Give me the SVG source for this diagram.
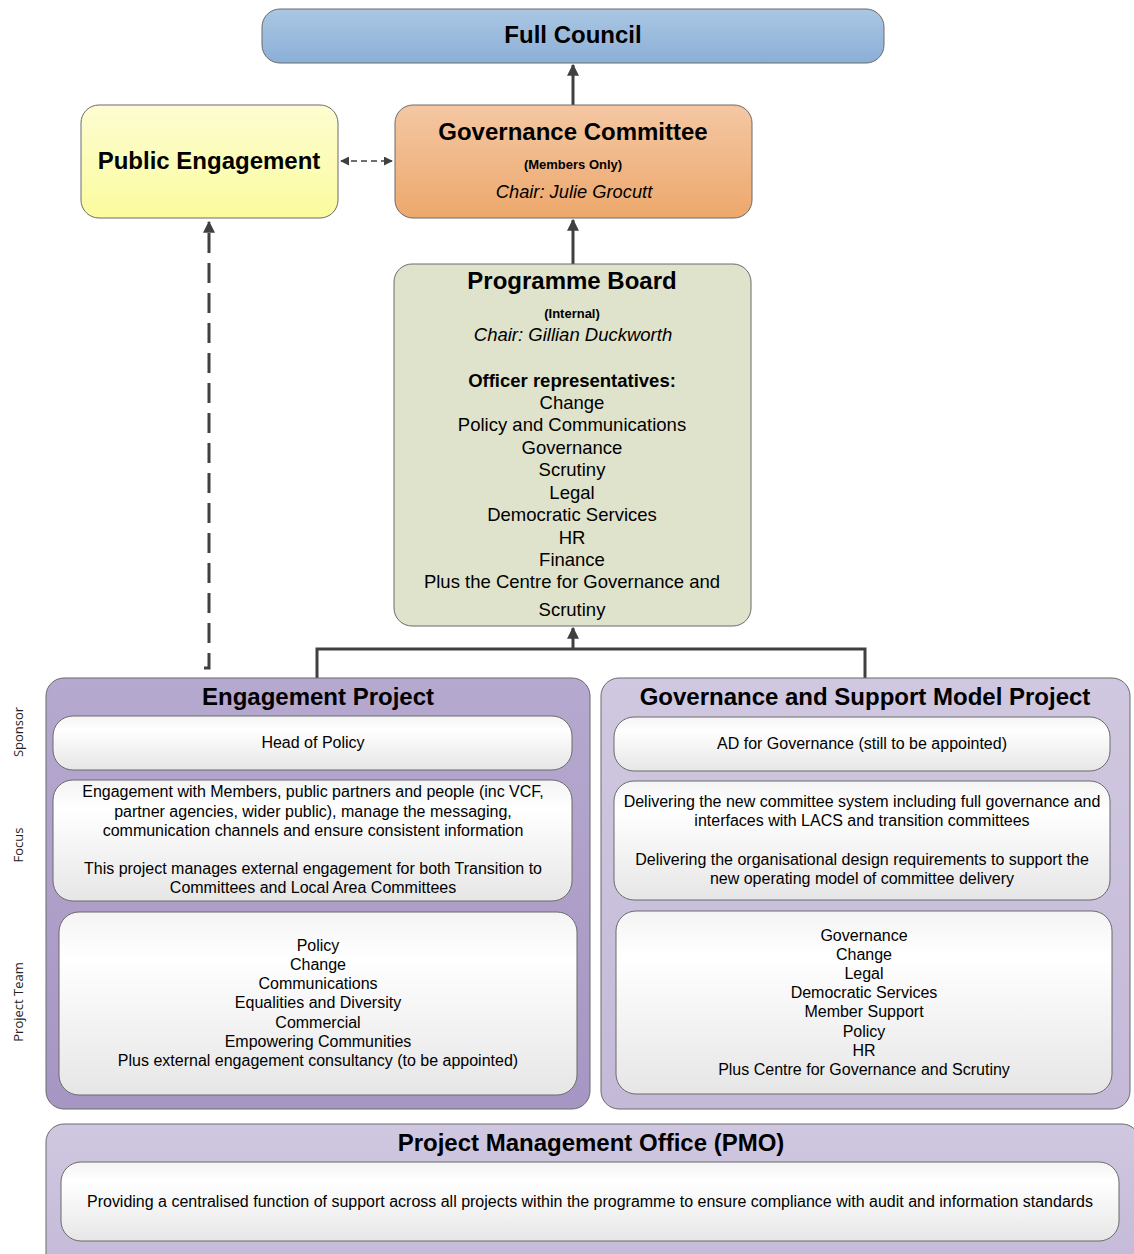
<svg xmlns="http://www.w3.org/2000/svg" width="1134" height="1254" viewBox="0 0 1134 1254">
<style>
text{font-family:"Liberation Sans",Arial,sans-serif;fill:#000;text-anchor:middle}
.t{font-size:24px;font-weight:bold}
.sm{font-size:13px;font-weight:bold}
.it{font-style:italic}
.b{font-size:18.5px}
.p{font-size:16px}
.side{font-family:"Open Sans","DejaVu Sans",sans-serif;font-size:13px;fill:#222}
.box{stroke:#6b6b6b;stroke-width:1}
.in{fill:url(#gw);stroke:#6b6b6b;stroke-width:1}
.con{fill:none;stroke:#404040;stroke-width:3}
</style>
<defs>
<linearGradient id="gb" x1="0" y1="0" x2="0" y2="1"><stop offset="0" stop-color="#aac7e3"/><stop offset="1" stop-color="#8cafd7"/></linearGradient>
<linearGradient id="go" x1="0" y1="0" x2="0" y2="1"><stop offset="0" stop-color="#f4c7a3"/><stop offset="1" stop-color="#eda86c"/></linearGradient>
<linearGradient id="gy" x1="0" y1="0" x2="0" y2="1"><stop offset="0" stop-color="#fdfdd2"/><stop offset="1" stop-color="#fbfb9e"/></linearGradient>
<linearGradient id="gp1" x1="0" y1="0" x2="0" y2="1"><stop offset="0" stop-color="#b6a9cf"/><stop offset="1" stop-color="#a696c3"/></linearGradient>
<linearGradient id="gp2" x1="0" y1="0" x2="0" y2="1"><stop offset="0" stop-color="#d0c7e0"/><stop offset="1" stop-color="#c4bad8"/></linearGradient>
<linearGradient id="gw" x1="0" y1="0" x2="0" y2="1"><stop offset="0" stop-color="#f4f4f4"/><stop offset="0.25" stop-color="#ffffff"/><stop offset="1" stop-color="#e6e6e6"/></linearGradient>
<marker id="ah" viewBox="0 0 10 10" refX="9" refY="5" markerWidth="4" markerHeight="4" orient="auto-start-reverse" markerUnits="strokeWidth"><path d="M0,0 L10,5 L0,10 z" fill="#404040"/></marker>
<marker id="ahs" viewBox="0 0 10 10" refX="9" refY="5" markerWidth="6" markerHeight="6" orient="auto-start-reverse" markerUnits="strokeWidth"><path d="M0,0 L10,5 L0,10 z" fill="#404040"/></marker>
</defs>

<g id="connectors">
<line class="con" x1="573" y1="105" x2="573" y2="65" marker-end="url(#ah)"/>
<line class="con" x1="573" y1="264" x2="573" y2="220" marker-end="url(#ah)"/>
<polyline class="con" points="317,678 317,649 865,649 865,678"/>
<line class="con" x1="573" y1="649" x2="573" y2="628" marker-end="url(#ah)"/>
<path d="M204,668 L209,668 L209,222" fill="none" stroke="#404040" stroke-width="3" stroke-dasharray="20 10" marker-end="url(#ah)"/>
<line x1="341" y1="161" x2="392" y2="161" stroke="#404040" stroke-width="1.5" stroke-dasharray="6 4" marker-start="url(#ahs)" marker-end="url(#ahs)"/>
</g>

<g id="full-council">
<rect class="box" x="262" y="9" width="622" height="54" rx="18" fill="url(#gb)"/>
<text class="t" x="573" y="43">Full Council</text>
</g>

<g id="public-engagement">
<rect class="box" x="81" y="105" width="257" height="113" rx="18" fill="url(#gy)"/>
<text class="t" x="209" y="169">Public Engagement</text>
</g>

<g id="governance-committee">
<rect class="box" x="395" y="105" width="357" height="113" rx="18" fill="url(#go)"/>
<text class="t" x="573" y="140">Governance Committee</text>
<text class="sm" x="573" y="169">(Members Only)</text>
<text class="it" x="574" y="198" style="font-size:18.3px">Chair: Julie Grocutt</text>
</g>

<g id="programme-board">
<rect class="box" x="394" y="264" width="357" height="362" rx="18" fill="#dfe3cb"/>
<text class="t" x="572" y="289">Programme Board</text>
<text class="sm" x="572" y="318">(Internal)</text>
<text class="b it" x="573" y="341">Chair: Gillian Duckworth</text>
<text class="b" x="572" y="387" font-weight="bold">Officer representatives:</text>
<text class="b" x="572" y="409">Change</text>
<text class="b" x="572" y="431">Policy and Communications</text>
<text class="b" x="572" y="454">Governance</text>
<text class="b" x="572" y="476">Scrutiny</text>
<text class="b" x="572" y="499">Legal</text>
<text class="b" x="572" y="521">Democratic Services</text>
<text class="b" x="572" y="544">HR</text>
<text class="b" x="572" y="566">Finance</text>
<text class="b" x="572" y="588">Plus the Centre for Governance and</text>
<text class="b" x="572" y="616">Scrutiny</text>
</g>

<g id="side-labels">
<text class="side" transform="translate(23,732) rotate(-90)">Sponsor</text>
<text class="side" transform="translate(23,845) rotate(-90)">Focus</text>
<text class="side" transform="translate(23,1002) rotate(-90)">Project Team</text>
</g>

<g id="engagement-project">
<rect class="box" x="46" y="678" width="544" height="431" rx="18" fill="url(#gp1)"/>
<text class="t" x="318" y="705">Engagement Project</text>
<rect class="in" x="53" y="716" width="519" height="54" rx="20"/>
<text class="p" x="313" y="748">Head of Policy</text>
<rect class="in" x="53" y="780" width="519" height="121" rx="20"/>
<text class="p" x="313" y="797">Engagement with Members, public partners and people (inc VCF,</text>
<text class="p" x="313" y="817">partner agencies, wider public), manage the messaging,</text>
<text class="p" x="313" y="836">communication channels and ensure consistent information</text>
<text class="p" x="313" y="874">This project manages external engagement for both Transition to</text>
<text class="p" x="313" y="893">Committees and Local Area Committees</text>
<rect class="in" x="59" y="912" width="518" height="183" rx="20"/>
<text class="p" x="318" y="951">Policy</text>
<text class="p" x="318" y="970">Change</text>
<text class="p" x="318" y="989">Communications</text>
<text class="p" x="318" y="1008">Equalities and Diversity</text>
<text class="p" x="318" y="1028">Commercial</text>
<text class="p" x="318" y="1047">Empowering Communities</text>
<text class="p" x="318" y="1066">Plus external engagement consultancy (to be appointed)</text>
</g>

<g id="governance-support-project">
<rect class="box" x="601" y="678" width="529" height="431" rx="18" fill="url(#gp2)"/>
<text class="t" x="865" y="705">Governance and Support Model Project</text>
<rect class="in" x="614" y="717" width="496" height="54" rx="20"/>
<text class="p" x="862" y="749">AD for Governance (still to be appointed)</text>
<rect class="in" x="614" y="781" width="496" height="119" rx="20"/>
<text class="p" x="862" y="807">Delivering the new committee system including full governance and</text>
<text class="p" x="862" y="826">interfaces with LACS and transition committees</text>
<text class="p" x="862" y="865">Delivering the organisational design requirements to support the</text>
<text class="p" x="862" y="884">new operating model of committee delivery</text>
<rect class="in" x="616" y="911" width="496" height="183" rx="20"/>
<text class="p" x="864" y="941">Governance</text>
<text class="p" x="864" y="960">Change</text>
<text class="p" x="864" y="979">Legal</text>
<text class="p" x="864" y="998">Democratic Services</text>
<text class="p" x="864" y="1017">Member Support</text>
<text class="p" x="864" y="1037">Policy</text>
<text class="p" x="864" y="1056">HR</text>
<text class="p" x="864" y="1075">Plus Centre for Governance and Scrutiny</text>
</g>

<g id="pmo">
<rect class="box" x="46" y="1124" width="1094" height="150" rx="18" fill="url(#gp2)"/>
<text class="t" x="591" y="1151">Project Management Office (PMO)</text>
<rect class="in" x="61" y="1162" width="1058" height="79" rx="20"/>
<text class="p" x="590" y="1207" textLength="1006" lengthAdjust="spacingAndGlyphs">Providing a centralised function of support across all projects within the programme to ensure compliance with audit and information standards</text>
</g>
</svg>
